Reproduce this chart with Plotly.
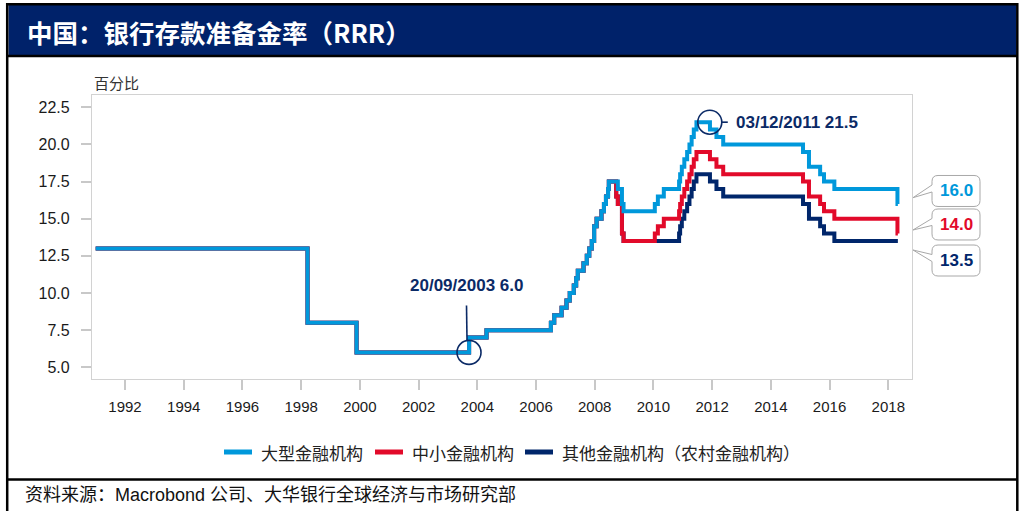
import plotly.graph_objects as go

# ---------------- data ----------------
large_dates = ["1991-01-01", "1998-03-21", "1999-11-21", "2003-09-21", "2004-04-25",
               "2006-07-05", "2006-08-15", "2006-11-15", "2007-01-15", "2007-02-25",
               "2007-04-16", "2007-05-15", "2007-06-05", "2007-08-15", "2007-09-25",
               "2007-10-25", "2007-11-26", "2007-12-25", "2008-01-25", "2008-03-25",
               "2008-04-25", "2008-05-20", "2008-06-15", "2008-06-25", "2008-10-15",
               "2008-12-05", "2008-12-25", "2010-01-18", "2010-02-25", "2010-05-10",
               "2010-11-16", "2010-11-29", "2010-12-20", "2011-01-20", "2011-02-24",
               "2011-03-25", "2011-04-21", "2011-05-18", "2011-06-20", "2011-12-05",
               "2012-02-24", "2012-05-18", "2015-02-05", "2015-04-20", "2015-09-06",
               "2015-10-24", "2016-03-01", "2018-04-25", "2018-04-30"]
large_vals = [13.0, 8.0, 6.0, 7.0, 7.5,
              8.0, 8.5, 9.0, 9.5, 10.0,
              10.5, 11.0, 11.5, 12.0, 12.5,
              13.0, 13.5, 14.5, 15.0, 15.5,
              16.0, 16.5, 17.0, 17.5, 17.0,
              16.0, 15.5, 16.0, 16.5, 17.0,
              17.5, 18.0, 18.5, 19.0, 19.5,
              20.0, 20.5, 21.0, 21.5, 21.0,
              20.5, 20.0, 19.5, 18.5, 18.0,
              17.5, 17.0, 16.0, 16.0]

small_dates = ["1991-01-01", "1998-03-21", "1999-11-21", "2003-09-21", "2004-04-25",
               "2006-07-05", "2006-08-15", "2006-11-15", "2007-01-15", "2007-02-25",
               "2007-04-16", "2007-05-15", "2007-06-05", "2007-08-15", "2007-09-25",
               "2007-10-25", "2007-11-26", "2007-12-25", "2008-01-25", "2008-03-25",
               "2008-04-25", "2008-05-20", "2008-06-15", "2008-06-25", "2008-09-25",
               "2008-10-15", "2008-12-05", "2008-12-25", "2010-01-18", "2010-02-25",
               "2010-05-10", "2010-11-16", "2010-11-29", "2010-12-20", "2011-01-20",
               "2011-02-24", "2011-03-25", "2011-04-21", "2011-05-18", "2011-06-20",
               "2011-12-05", "2012-02-24", "2012-05-18", "2015-02-05", "2015-04-20",
               "2015-09-06", "2015-10-24", "2016-03-01", "2018-04-25", "2018-04-30"]
small_vals = [13.0, 8.0, 6.0, 7.0, 7.5,
              8.0, 8.5, 9.0, 9.5, 10.0,
              10.5, 11.0, 11.5, 12.0, 12.5,
              13.0, 13.5, 14.5, 15.0, 15.5,
              16.0, 16.5, 17.0, 17.5, 16.5,
              16.0, 14.0, 13.5, 14.0, 14.5,
              15.0, 15.5, 16.0, 16.5, 17.0,
              17.5, 18.0, 18.5, 19.0, 19.5,
              19.0, 18.5, 18.0, 17.5, 16.5,
              16.0, 15.5, 15.0, 14.0, 14.0]

rural_dates = ["1991-01-01", "1998-03-21", "1999-11-21", "2003-09-21", "2004-04-25",
               "2006-07-05", "2006-08-15", "2006-11-15", "2007-01-15", "2007-02-25",
               "2007-04-16", "2007-05-15", "2007-06-05", "2007-08-15", "2007-09-25",
               "2007-10-25", "2007-11-26", "2007-12-25", "2008-01-25", "2008-03-25",
               "2008-04-25", "2008-05-20", "2008-06-15", "2008-06-25", "2008-09-25",
               "2008-10-15", "2008-12-05", "2008-12-25", "2010-11-16", "2010-11-29",
               "2010-12-20", "2011-01-20", "2011-02-24", "2011-03-25", "2011-04-21",
               "2011-05-18", "2011-06-20", "2011-12-05", "2012-02-24", "2012-05-18",
               "2015-02-05", "2015-04-20", "2015-09-06", "2015-10-24", "2016-03-01",
               "2018-04-30"]
rural_vals = [13.0, 8.0, 6.0, 7.0, 7.5,
              8.0, 8.5, 9.0, 9.5, 10.0,
              10.5, 11.0, 11.5, 12.0, 12.5,
              13.0, 13.5, 14.5, 15.0, 15.5,
              16.0, 16.5, 17.0, 17.5, 16.5,
              16.0, 14.0, 13.5, 14.0, 14.5,
              15.0, 15.5, 16.0, 16.5, 17.0,
              17.5, 18.0, 17.5, 17.0, 16.5,
              16.0, 15.0, 14.5, 14.0, 13.5,
              13.5]

series_names = ["大型金融机构", "中小金融机构", "其他金融机构（农村金融机构）"]
y_tick_vals = [5.0, 7.5, 10.0, 12.5, 15.0, 17.5, 20.0, 22.5]
x_tick_years = [1992, 1994, 1996, 1998, 2000, 2002, 2004, 2006, 2008, 2010, 2012, 2014, 2016, 2018]

ann1_date, ann1_val, ann1_text = "2003-09-20", 6.0, "20/09/2003 6.0"
ann2_date, ann2_val, ann2_text = "2011-12-03", 21.5, "03/12/2011 21.5"

title_text = "中国：银行存款准备金率（RRR）"
unit_text = "百分比"
source_text = "资料来源：Macrobond 公司、大华银行全球经济与市场研究部"

# ---------------- style / layout ----------------
BLUE, RED, NAVY = "#0098DB", "#E20A2A", "#00266B"
TITLE_NAVY = "#00226A"
ANN_NAVY = "#0B2A66"
CJK = "Noto Sans CJK SC"
LAT = "Liberation Sans, Arial"
MIX = "Liberation Sans, Noto Sans CJK SC"

W, H = 1022, 511
L, R, T, B = 92, 110, 95, 132
PW, PH = W - L - R, H - T - B


def px(xp):
    return (xp - L) / PW


def py(yp):
    return (H - B - yp) / PH


fig = go.Figure()
series = [
    (large_dates, large_vals, series_names[0], BLUE),
    (small_dates, small_vals, series_names[1], RED),
    (rural_dates, rural_vals, series_names[2], NAVY),
]
for dates, vals, name, color in reversed(series):
    fig.add_trace(go.Scatter(x=dates, y=vals, name=name, mode="lines",
                             line=dict(color=color, width=4, shape="hv"),
                             showlegend=False, hoverinfo="skip"))

shapes = []
annotations = []

# frame and title bar
shapes.append(dict(type="rect", xref="paper", yref="paper", layer="below",
                   x0=px(8.5), x1=px(1016), y0=py(5), y1=py(55),
                   fillcolor=TITLE_NAVY, line=dict(width=0)))
shapes.append(dict(type="rect", xref="paper", yref="paper", layer="above",
                   x0=px(7.2), x1=px(1017.3), y0=py(4.3), y1=py(530),
                   line=dict(color="black", width=2.5)))
for yl in (56, 479.5):
    shapes.append(dict(type="line", xref="paper", yref="paper", layer="above",
                       x0=px(7.2), x1=px(1017.3), y0=py(yl), y1=py(yl),
                       line=dict(color="black", width=2.5)))

annotations.append(dict(xref="paper", yref="paper", x=px(25), y=py(31),
                        xanchor="left", yanchor="middle", showarrow=False,
                        text="<b>" + title_text + "</b>",
                        font=dict(family=CJK, size=25.5, color="white")))
annotations.append(dict(xref="paper", yref="paper", x=px(92), y=py(82.5),
                        xanchor="left", yanchor="middle", showarrow=False,
                        text=unit_text, font=dict(family=CJK, size=15, color="#333333")))
annotations.append(dict(xref="paper", yref="paper", x=px(23), y=py(495),
                        xanchor="left", yanchor="middle", showarrow=False,
                        text=source_text, font=dict(family=MIX, size=18, color="#111111")))

# legend (drawn by hand for exact spacing)
leg_swatch_x = [(224, 252), (375, 403), (525, 553)]
leg_text_x = [259, 410, 560]
LEG_Y = 452
for (dates, vals, name, color), (sx0, sx1), tx in zip(series, leg_swatch_x, leg_text_x):
    shapes.append(dict(type="line", xref="paper", yref="paper",
                       x0=px(sx0), x1=px(sx1), y0=py(LEG_Y), y1=py(LEG_Y),
                       line=dict(color=color, width=5)))
    annotations.append(dict(xref="paper", yref="paper", x=px(tx), y=py(LEG_Y),
                            xanchor="left", yanchor="middle", showarrow=False,
                            text=name, font=dict(family=CJK, size=17, color="#222222")))

# highlighted points
shapes.append(dict(type="circle", xref="x", yref="y", xsizemode="pixel", ysizemode="pixel",
                   xanchor=ann1_date, yanchor=ann1_val, x0=-12, x1=12, y0=-12, y1=12,
                   line=dict(color=ANN_NAVY, width=1.6)))
shapes.append(dict(type="line", xref="x", yref="y", xsizemode="pixel", ysizemode="pixel",
                   xanchor=ann1_date, yanchor=ann1_val, x0=-2.5, x1=-2, y0=47, y1=12,
                   line=dict(color=ANN_NAVY, width=1.6)))
annotations.append(dict(xref="x", yref="y", x=ann1_date, y=ann1_val, xshift=-3, yshift=67,
                        showarrow=False, xanchor="center", yanchor="middle",
                        text="<b>" + ann1_text + "</b>",
                        font=dict(family=LAT, size=17, color=ANN_NAVY)))

shapes.append(dict(type="circle", xref="x", yref="y", xsizemode="pixel", ysizemode="pixel",
                   xanchor=ann2_date, yanchor=ann2_val, x0=-12, x1=12, y0=-12, y1=12,
                   line=dict(color=ANN_NAVY, width=1.6)))
shapes.append(dict(type="line", xref="x", yref="y", xsizemode="pixel", ysizemode="pixel",
                   xanchor=ann2_date, yanchor=ann2_val, x0=12, x1=18, y0=0, y1=0,
                   line=dict(color=ANN_NAVY, width=1.6)))
annotations.append(dict(xref="x", yref="y", x=ann2_date, y=ann2_val, xshift=24, yshift=0,
                        showarrow=False, xanchor="left", yanchor="middle",
                        text="<b>" + ann2_text + "</b>",
                        font=dict(family=LAT, size=17, color=ANN_NAVY)))

# end-value callouts (screen offsets in px relative to the value, y down)
last_vals = [large_vals[-1], small_vals[-1], rural_vals[-1]]
callout_colors = [BLUE, RED, NAVY]
box_dy = [-12.9, -9.1, 19.5]
tip_dy = [-6.2, -3.6, 9.0]
XL, XR, RAD, HH, XTIP = 20, 68, 6, 15.5, 1


def callout_path(c, tip):
    top, bot = c - HH, c + HH
    b1, b2 = c - 6, c + 1
    pts = [("M", XL, top + RAD), ("Q", XL, top, XL + RAD, top), ("L", XR - RAD, top),
           ("Q", XR, top, XR, top + RAD), ("L", XR, bot - RAD),
           ("Q", XR, bot, XR - RAD, bot), ("L", XL + RAD, bot),
           ("Q", XL, bot, XL, bot - RAD), ("L", XL, b2), ("L", XTIP, tip), ("L", XL, b1)]
    out = []
    for p in pts:
        cmd, coords = p[0], p[1:]
        pairs = []
        for i in range(0, len(coords), 2):
            pairs.append(f"{coords[i]},{-coords[i + 1]}")
        out.append(cmd + " ".join(pairs))
    return " ".join(out) + " Z"


for v, col, bdy, tdy in zip(last_vals, callout_colors, box_dy, tip_dy):
    shapes.append(dict(type="path", xref="paper", yref="y", xsizemode="pixel", ysizemode="pixel",
                       xanchor=1, yanchor=v, path=callout_path(bdy, tdy),
                       fillcolor="white", line=dict(color="#A8A8A8", width=1)))
    annotations.append(dict(xref="paper", yref="y", x=1, y=v, xshift=44, yshift=-bdy,
                            showarrow=False, xanchor="center", yanchor="middle",
                            text=f"<b>{v:.1f}</b>",
                            font=dict(family=LAT, size=17, color=col)))

fig.update_layout(
    width=W, height=H,
    margin=dict(l=L, r=R, t=T, b=B, pad=0),
    paper_bgcolor="white", plot_bgcolor="white",
    showlegend=False,
    shapes=shapes, annotations=annotations,
    xaxis=dict(type="date", range=["1990-11-16", "2018-10-23"],
               tickvals=[f"{y}-01-01" for y in x_tick_years],
               ticktext=[str(y) for y in x_tick_years],
               ticks="outside", ticklen=10, tickwidth=1.5, tickcolor="#C8C8C8",
               showgrid=False, zeroline=False, showline=True, linecolor="#D2D2D2",
               linewidth=1.2, mirror=True, ticklabelstandoff=4,
               tickfont=dict(family=LAT, size=15, color="#1A1A1A")),
    yaxis=dict(range=[4.21, 23.33], tickvals=y_tick_vals,
               ticktext=[f"{v:.1f}" for v in y_tick_vals],
               ticks="outside", ticklen=10, tickwidth=1.5, tickcolor="#C8C8C8",
               showgrid=False, zeroline=False, showline=True, linecolor="#D2D2D2",
               linewidth=1.2, mirror=True, ticklabelstandoff=8,
               tickfont=dict(family=LAT, size=16, color="#1A1A1A")),
)

fig.write_html("out.html", config={"displayModeBar": False},
               post_script="document.body.style.margin='0px';")
